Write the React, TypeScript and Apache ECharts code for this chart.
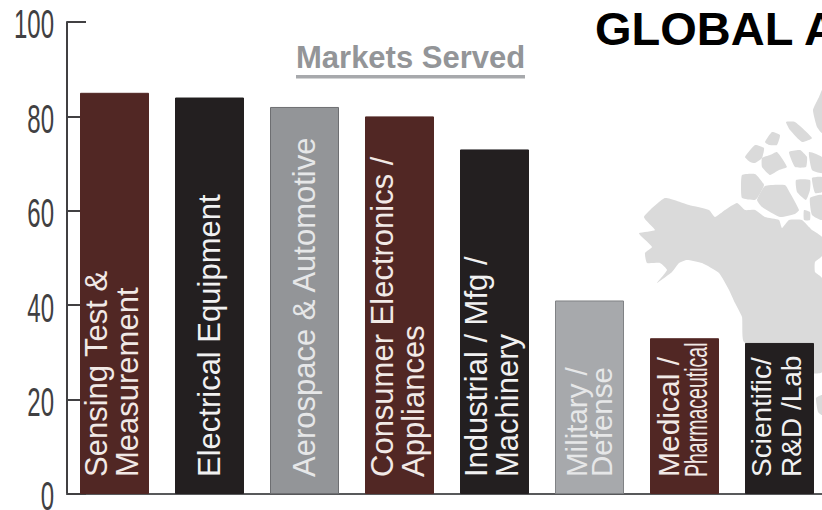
import React, { useEffect, useRef } from "react";
import * as echarts from "echarts";

const categories = [
  "Sensing Test &\nMeasurement",
  "Electrical Equipment",
  "Aerospace & Automotive",
  "Consumer Electronics /\nAppliances",
  "Industrial / Mfg /\nMachinery",
  "Military /\nDefense",
  "Medical /",
  "Scientific/\nR&D /Lab",
];
const values = [85, 84, 82, 80, 73, 41, 33, 32];
const yTicks = [0, 20, 40, 60, 80, 100];
const barColors = ["#512724", "#231f20", "#939598", "#512724", "#231f20", "#a7a9ac", "#512724", "#231f20"];
const barBorders = ["#512724", "#231f20", "#6d6e71", "#512724", "#231f20", "#808285", "#512724", "#231f20"];
const labelColors = ["#f1e9e6", "#f1f1f1", "#e6e7e8", "#f1e9e6", "#f1f1f1", "#e6e7e8", "#f1e9e6", "#f1f1f1"];
const labelSizes = [31, 31, 31, 31, 31, 29.5, 30, 28];
const labelLines = [31, 31, 31, 31, 31, 25, 31, 30];
const labelOffsets = [-3, 0, 0, -2, -3, -1, -16, -3];
const narrowLabels = [{ category: 6, text: "Pharmaceutical" }];

const SANS = '"Liberation Sans", Arial, sans-serif';
const MAP = "#dadada";

// Background map of North America (decoration only)
const mapShapes: number[][][] = [
  [[644,217],[665,198],[689,205],[709,210],[715,217],[725,210],[737,203],[745,210],[755,210],[765,217],[779,220],[782,228],[789,220],[802,220],[809,227],[812,230],[822,237],[822,256],[815,262],[815,272],[822,278],[822,372],[800,372],[744,342],[742,317],[735,303],[729,290],[719,273],[702,263],[687,260],[679,263],[672,272],[657,283],[667,270],[660,263],[647,263],[645,253],[652,247],[640,235],[639,233],[655,230]],
  [[745,157],[755,145],[764,148],[762,158],[755,163],[750,162]],
  [[762,158],[770,155],[777,152],[787,167],[779,170],[770,175],[762,167]],
  [[765,142],[772,132],[780,135],[777,145],[769,145]],
  [[786,122],[795,122],[812,138],[802,142],[790,130]],
  [[789,152],[800,150],[807,157],[806,167],[795,167]],
  [[809,152],[822,157],[822,173],[812,170]],
  [[813,110],[819,97],[822,90],[822,133],[817,127]],
  [[742,175],[755,174],[764,185],[758,197],[755,200],[742,198],[741,187]],
  [[765,186],[785,185],[790,193],[799,210],[795,214],[780,217],[762,207],[757,200]],
  [[796,180],[810,180],[810,190],[806,200],[797,192]],
  [[812,178],[822,177],[822,192],[815,193]],
  [[810,198],[822,195],[822,220],[812,215]],
  [[804,210],[810,212],[810,220],[804,220]],
  [[816,398],[822,395],[822,415],[818,412]],
];

export default function App() {
  const ref = useRef<HTMLDivElement>(null);
  useEffect(() => {
    const chart = echarts.init(ref.current!, undefined, { renderer: "svg" });
    chart.setOption({
      animation: false,
      backgroundColor: "#ffffff",
      title: [
        {
          text: "Markets Served",
          left: 296,
          top: 42,
          padding: 0,
          textStyle: { fontFamily: SANS, fontWeight: "bold", fontSize: 31, color: "#939598" },
        },
        {
          text: "GLOBAL A",
          left: 595,
          top: 5,
          padding: 0,
          textStyle: { fontFamily: SANS, fontWeight: "bold", fontSize: 47, color: "#000000" },
        },
      ],
      graphic: [
        ...mapShapes.map((points) => ({
          type: "polygon",
          silent: true,
          z: 0,
          shape: { points, smooth: 0.15 },
          style: { fill: MAP },
        })),
        { type: "rect", z: 1, silent: true, shape: { x: 296, y: 75, width: 229, height: 3.5 }, style: { fill: "#a7a9ac" } },
      ],
      grid: { left: 67, top: 22, width: 760, height: 472 },
      xAxis: {
        type: "category",
        data: categories,
        axisLine: { lineStyle: { color: "#58595b", width: 2 } },
        axisTick: { inside: true, length: 12, lineStyle: { color: "#58595b", width: 1.5 } },
        axisLabel: { show: false },
      },
      yAxis: {
        type: "value",
        min: 0,
        max: 100,
        interval: 20,
        axisLine: { show: true, lineStyle: { color: "#414042", width: 2 } },
        axisTick: { show: true, inside: true, length: 19, lineStyle: { color: "#414042", width: 2 } },
        axisLabel: { show: false },
        splitLine: { show: false },
      },
      series: [
        {
          type: "bar",
          barWidth: 69,
          z: 3,
          data: values.map((value, i) => ({
            value,
            itemStyle: { color: barColors[i], borderColor: barBorders[i], borderWidth: 1 },
            label: {
              show: true,
              position: "insideBottom",
              distance: 17,
              rotate: 90,
              align: "left",
              verticalAlign: "middle",
              offset: [0, labelOffsets[i]],
              fontFamily: SANS,
              fontSize: labelSizes[i],
              lineHeight: labelLines[i],
              color: labelColors[i],
              formatter: categories[i],
            },
          })),
        },
        {
          type: "custom",
          silent: true,
          clip: false,
          z: 4,
          data: yTicks.map((v) => [0, v]),
          encode: { x: 0, y: 1 },
          renderItem: (_: unknown, api: any) => ({
            type: "text",
            x: 54,
            y: api.coord([0, api.value(1)])[1] + 2.5,
            scaleX: 0.6,
            style: {
              text: String(api.value(1)),
              font: `40px ${SANS}`,
              fill: "#414042",
              align: "right",
              verticalAlign: "middle",
            },
          }),
        },
        {
          type: "custom",
          silent: true,
          clip: false,
          z: 5,
          data: narrowLabels.map((d) => [d.category, 0]),
          encode: { x: 0, y: 1 },
          renderItem: (params: any, api: any) => {
            const p = api.coord([api.value(0), 0]);
            return {
              type: "text",
              x: p[0] + 12,
              y: p[1] - 17,
              rotation: Math.PI / 2,
              scaleX: 0.63,
              style: {
                text: narrowLabels[params.dataIndex].text,
                font: `31px ${SANS}`,
                fill: labelColors[6],
                align: "left",
                verticalAlign: "middle",
              },
            };
          },
        },
      ],
    });
    return () => chart.dispose();
  }, []);
  return (
    <div style={{ position: "absolute", left: 0, top: 0, width: 822, height: 510, overflow: "hidden" }}>
      <div ref={ref} style={{ width: 840, height: 510 }} />
    </div>
  );
}
